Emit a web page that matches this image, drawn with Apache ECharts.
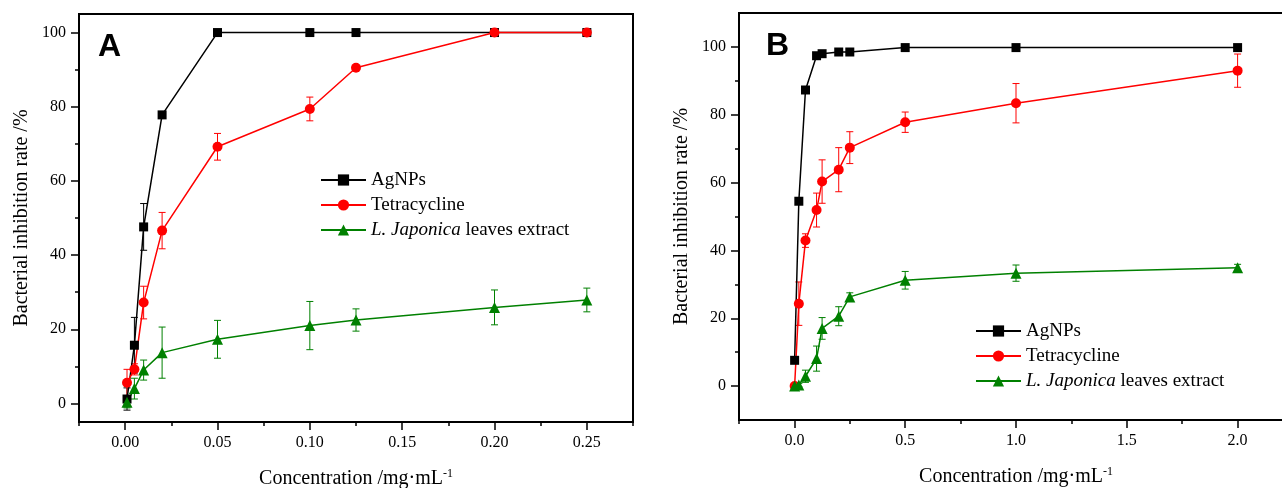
<!DOCTYPE html>
<html>
<head>
<meta charset="utf-8">
<script src="https://cdn.jsdelivr.net/npm/echarts@6.0.0/dist/echarts.min.js"></script>
<style>
  html, body { margin: 0; padding: 0; background: #fff; }
  #main { width: 1282px; height: 488px; }
</style>
</head>
<body>
<div id="main"></div>
<script>
// panel A
var concA = [0.001, 0.005, 0.01, 0.02, 0.05, 0.1, 0.125, 0.2, 0.25];
var agA = [1.2, 15.7, 47.6, 77.8, 100, 100, 100, 100, 100];
var agErrA = [3, 7.5, 6.3, 0, 0, 0, 0, 0, 0];
var tetA = [5.6, 9.2, 27.2, 46.6, 69.2, 79.4, 90.5, 100, 100];
var tetErrA = [3.6, 1.5, 4.4, 4.9, 3.6, 3.2, 0, 0, 0];
var ljA = [0.3, 4.0, 9.0, 13.7, 17.3, 21.0, 22.5, 25.9, 27.9];
var ljErrA = [1.5, 2.8, 2.7, 6.9, 5.1, 6.5, 3.0, 4.7, 3.2];

// panel B
var concB = [0.001, 0.02, 0.05, 0.1, 0.125, 0.2, 0.25, 0.5, 1, 2];
var agB = [7.6, 54.5, 87.3, 97.4, 98.0, 98.5, 98.5, 99.8, 99.8, 99.8];
var agErrB = [0, 0, 0, 0, 0, 0, 0, 0, 0, 0];
var tetB = [0, 24.3, 42.9, 51.9, 60.3, 63.8, 70.3, 77.8, 83.4, 93.0];
var tetErrB = [0, 6.4, 2.0, 5.0, 6.4, 6.5, 4.7, 3.0, 5.8, 4.9];
var ljB = [0, 0.3, 2.9, 8.1, 17.0, 20.6, 26.3, 31.2, 33.3, 34.9];
var ljErrB = [0, 0.5, 1.8, 3.7, 3.2, 2.8, 1.2, 2.6, 2.4, 1.0];

// ticks
var xMajorA = [0, 0.05, 0.1, 0.15, 0.2, 0.25];
var xMinorA = [-0.025, 0.025, 0.075, 0.125, 0.175, 0.225, 0.275];
var xMajorB = [0, 0.5, 1.0, 1.5, 2.0];
var xMinorB = [-0.25, 0.25, 0.75, 1.25, 1.75, 2.25];
var yMajor = [0, 20, 40, 60, 80, 100];
var yMinor = [10, 30, 50, 70, 90];

var names = ['AgNPs', 'Tetracycline', 'L. Japonica leaves extract'];
var colors = ['#000000', '#ff0000', '#008000'];
var symbols = ['rect', 'circle', 'triangle'];
var symSizes = [9, 10, 11];

var serif = '"Liberation Serif", "Times New Roman", serif';

function pairs(xs, ys) {
  return xs.map(function (x, i) { return [x, ys[i]]; });
}
function triples(xs, ys, es) {
  return xs.map(function (x, i) { return [x, ys[i], es[i]]; });
}

function errRender(color) {
  return function (params, api) {
    var x = api.value(0), y = api.value(1), e = api.value(2);
    if (!e) return;
    var hi = api.coord([x, y + e]);
    var lo = api.coord([x, y - e]);
    var w = 3.5;
    var st = { stroke: color, lineWidth: 1 };
    return {
      type: 'group',
      children: [
        { type: 'line', shape: { x1: hi[0], y1: hi[1], x2: lo[0], y2: lo[1] }, style: st },
        { type: 'line', shape: { x1: hi[0] - w, y1: hi[1], x2: hi[0] + w, y2: hi[1] }, style: st },
        { type: 'line', shape: { x1: lo[0] - w, y1: lo[1], x2: lo[0] + w, y2: lo[1] }, style: st }
      ]
    };
  };
}

function xAxesFor(gridIndex, min, max, major, minor, digits) {
  return [{
    type: 'value', gridIndex: gridIndex, position: 'bottom', min: min, max: max,
    name: 'Concentration /mg\u00b7mL{sup|-1}',
    nameLocation: 'middle', nameGap: 46, nameMoveOverlap: false,
    nameTextStyle: {
      fontFamily: serif, fontSize: 20, color: '#000',
      rich: { sup: { fontFamily: serif, fontSize: 12, color: '#000', padding: [0, 0, 10, 0] } }
    },
    axisLine: { show: true, onZero: false, lineStyle: { color: '#000', width: 2 } },
    axisTick: { show: true, inside: false, length: 8, customValues: major, lineStyle: { color: '#000', width: 1.5 } },
    axisLabel: {
      customValues: major, margin: 13, color: '#000', fontFamily: serif, fontSize: 16,
      formatter: function (v) { return v.toFixed(digits); }
    },
    splitLine: { show: false }
  }, {
    type: 'value', gridIndex: gridIndex, position: 'bottom', offset: 0, min: min, max: max,
    axisLine: { show: false, onZero: false },
    axisTick: { show: true, inside: false, length: 4, customValues: minor, lineStyle: { color: '#000', width: 1.5 } },
    axisLabel: { show: false },
    splitLine: { show: false }
  }];
}

function yAxesFor(gridIndex, min, max) {
  return [{
    type: 'value', gridIndex: gridIndex, position: 'left', min: min, max: max,
    name: 'Bacterial inhibition rate /%',
    nameLocation: 'middle', nameGap: 47, nameMoveOverlap: false,
    nameTextStyle: { fontFamily: serif, fontSize: 20, color: '#000' },
    axisLine: { show: true, onZero: false, lineStyle: { color: '#000', width: 2 } },
    axisTick: { show: true, inside: false, length: 8, customValues: yMajor, lineStyle: { color: '#000', width: 1.5 } },
    axisLabel: { customValues: yMajor, margin: 13, color: '#000', fontFamily: serif, fontSize: 16 },
    splitLine: { show: false }
  }, {
    type: 'value', gridIndex: gridIndex, position: 'left', offset: 0, min: min, max: max,
    axisLine: { show: false, onZero: false },
    axisTick: { show: true, inside: false, length: 4, customValues: yMinor, lineStyle: { color: '#000', width: 1.5 } },
    axisLabel: { show: false },
    splitLine: { show: false }
  }];
}

function seriesFor(xi, yi, conc, vals, errs) {
  var out = [];
  for (var k = 0; k < 3; k++) {
    out.push({
      type: 'custom', xAxisIndex: xi, yAxisIndex: yi, z: 1,
      renderItem: errRender(colors[k]),
      encode: { x: 0, y: 1 },
      data: triples(conc, vals[k], errs[k]),
      silent: true
    });
  }
  for (var j = 0; j < 3; j++) {
    out.push({
      name: names[j], type: 'line', xAxisIndex: xi, yAxisIndex: yi, z: 2,
      data: pairs(conc, vals[j]),
      symbol: symbols[j], symbolSize: symSizes[j], showAllSymbol: true,
      lineStyle: { color: colors[j], width: 1.5 },
      itemStyle: { color: colors[j] }
    });
  }
  return out;
}

function legendAt(left, top) {
  return {
    left: left, top: top, orient: 'vertical', selectedMode: false,
    data: names, itemWidth: 45, itemHeight: 14, itemGap: 5,
    textStyle: {
      fontFamily: serif, fontSize: 19, color: '#000', lineHeight: 20,
      rich: { i: { fontFamily: serif, fontSize: 19, fontStyle: 'italic', color: '#000' } }
    },
    formatter: function (n) {
      return n === names[2] ? '{i|L. Japonica} leaves extract' : n;
    }
  };
}

var chart = echarts.init(document.getElementById('main'));
chart.setOption({
  backgroundColor: '#fff',
  animation: false,
  grid: [
    { left: 79, top: 14, width: 554, height: 408, outerBoundsMode: 'none', containLabel: false, show: true, borderColor: '#000', borderWidth: 2, backgroundColor: 'transparent' },
    { left: 739, top: 13, width: 554, height: 407, outerBoundsMode: 'none', containLabel: false, show: true, borderColor: '#000', borderWidth: 2, backgroundColor: 'transparent' }
  ],
  xAxis: xAxesFor(0, -0.025, 0.275, xMajorA, xMinorA, 2).concat(xAxesFor(1, -0.25, 2.25, xMajorB, xMinorB, 1)),
  yAxis: yAxesFor(0, -5, 105).concat(yAxesFor(1, -10, 110)),
  legend: [legendAt(315, 165), legendAt(970, 316)],
  graphic: [
    { type: 'text', left: 98, top: 31, style: { text: 'A', font: 'bold 32px "Liberation Sans", Arial, sans-serif', fill: '#000' } },
    { type: 'text', left: 766, top: 30, style: { text: 'B', font: 'bold 32px "Liberation Sans", Arial, sans-serif', fill: '#000' } }
  ],
  series: seriesFor(0, 0, concA, [agA, tetA, ljA], [agErrA, tetErrA, ljErrA])
    .concat(seriesFor(2, 2, concB, [agB, tetB, ljB], [agErrB, tetErrB, ljErrB]))
});
</script>
</body>
</html>
